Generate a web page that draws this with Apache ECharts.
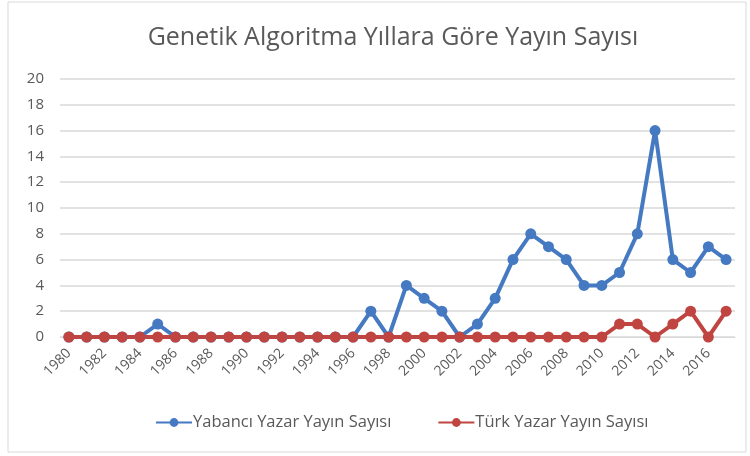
<!DOCTYPE html>
<html><head><meta charset="utf-8">
<script src="https://cdn.jsdelivr.net/npm/echarts@6/dist/echarts.min.js"></script>
<style>html,body{margin:0;padding:0;background:#fff}#c{width:750px;height:456px}</style>
</head><body><div id="c"></div>
<script>
const years = [];
for (let y = 1980; y <= 2017; y++) years.push(String(y));
const yabanci = [0,0,0,0,0,1,0,0,0,0,0,0,0,0,0,0,0,2,0,4,3,2,0,1,3,6,8,7,6,4,4,5,8,16,6,5,7,6];
const turk    = [0,0,0,0,0,0,0,0,0,0,0,0,0,0,0,0,0,0,0,0,0,0,0,0,0,0,0,0,0,0,0,1,1,0,1,2,0,2];
const seriesNames = ['Yabancı Yazar Yayın Sayısı', 'Türk Yazar Yayın Sayısı'];
const titleText = 'Genetik Algoritma Yıllara Göre Yayın Sayısı';

const chart = echarts.init(document.getElementById('c'));
const font = 'Open Sans';
chart.setOption({
  animation: false,
  textStyle: { fontFamily: font },
  title: { text: titleText, left: 388, textAlign: 'center', top: 20, textStyle: { fontFamily: font, fontSize: 25, fontWeight: 'normal', color: '#595959' } },
  graphic: [{ type: 'rect', shape: { x: 8, y: 2, width: 738, height: 450 }, style: { fill: 'none', stroke: '#d9d9d9', lineWidth: 1 } }],
  grid: { left: 60, right: 15, top: 79, bottom: 119, containLabel: false },
  legend: { bottom: 20, left: 150, itemGap: 46, itemWidth: 36, itemHeight: 11, textStyle: { fontFamily: font, fontSize: 16.5, color: '#595959', padding: [0, 0, 0, -4] }, data: seriesNames },
  xAxis: {
    type: 'category', data: years, boundaryGap: true,
    axisLine: { show: true, lineStyle: { color: '#d9d9d9' } },
    axisTick: { show: false },
    axisLabel: { interval: 1, rotate: 45, color: '#595959', fontSize: 14, margin: 14 }
  },
  yAxis: {
    type: 'value', min: 0, max: 20, interval: 2,
    axisLine: { show: false }, axisTick: { show: false },
    axisLabel: { color: '#595959', fontSize: 15, margin: 16 },
    splitLine: { lineStyle: { color: '#d9d9d9', width: 1.5 } }
  },
  series: [
    { name: seriesNames[0], type: 'line', data: yabanci, symbol: 'circle', symbolSize: 11, color: '#4579C1', lineStyle: { width: 4 } },
    { name: seriesNames[1], type: 'line', data: turk, symbol: 'circle', symbolSize: 11, color: '#C0443F', lineStyle: { width: 4 } }
  ]
});
</script></body></html>
